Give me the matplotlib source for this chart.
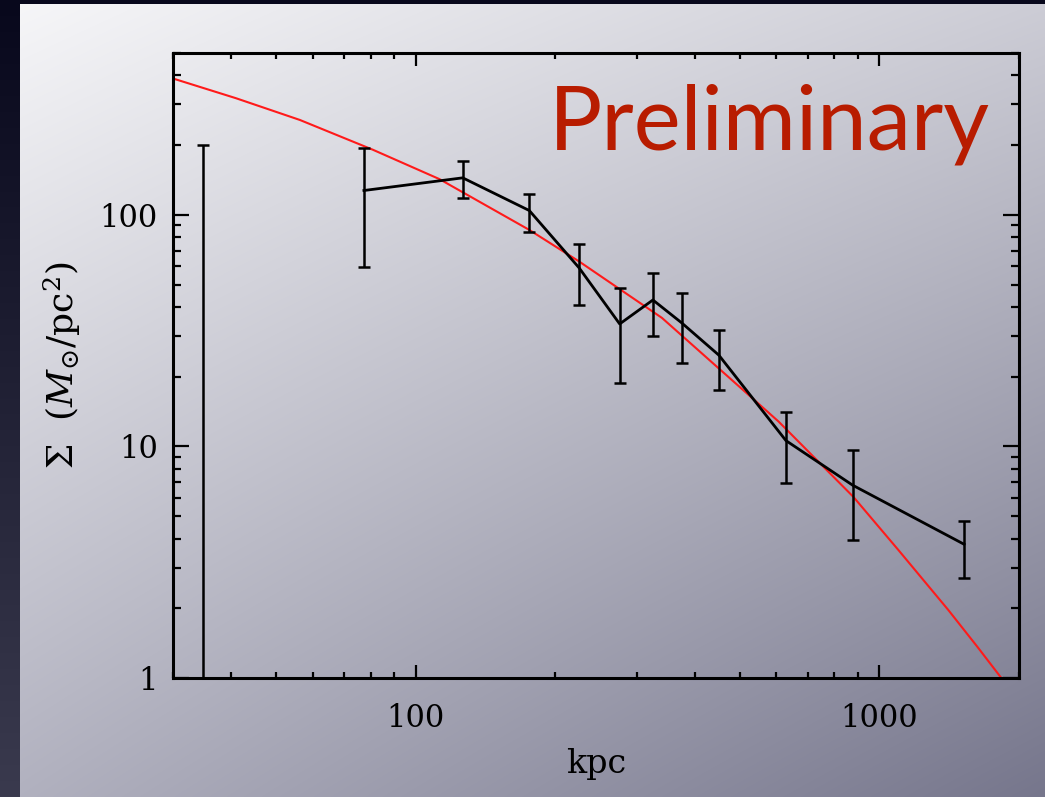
import numpy as np
import matplotlib
matplotlib.use("Agg")
import matplotlib.pyplot as plt

# data (kpc, M_sun/pc^2)
r_obs = [77.4, 126.4, 175.9, 225.3, 275.5, 324.9, 374.6, 450.6, 628.8, 876.0, 1523.0]
sig_obs = [127.4, 144.5, 104.4, 59.0, 33.8, 42.9, 34.2, 24.8, 10.6, 6.80, 3.78]
sig_lo = [59.6, 118.1, 84.7, 40.9, 18.7, 30.1, 22.9, 17.6, 6.98, 3.95, 2.70]
sig_hi = [195.3, 171.1, 123.6, 74.7, 48.5, 56.2, 45.9, 31.8, 14.05, 9.66, 4.77]

# innermost bin: only the upper end is on the plot
r_in = 34.8
sig_in_lo = 0.5
sig_in_hi = 200.0

# red model curve
r_mod = [30.0, 41.0, 56.3, 81.0, 112.6, 175.9, 225.3, 339.8, 606.5, 879.3,
         1099.0, 1407.0, 1633.0, 1832.0]
sig_mod = [388.0, 319.0, 257.0, 190.9, 142.7, 86.1, 62.9, 35.9, 12.8, 6.05,
           3.57, 1.97, 1.35, 1.0]

W, H = 1045, 797
fig = plt.figure(figsize=(W / 100, H / 100), dpi=100)

# background: dark frame + diagonal grey gradient panel
bg = np.zeros((H, W, 3))
u = np.linspace(0, 1, W)[None, :, None]
v = np.linspace(0, 1, H)[:, None, None]
tl = np.array([247, 247, 249]) / 255
tr = np.array([205, 205, 214]) / 255
bl = np.array([178, 178, 192]) / 255
br = np.array([118, 118, 140]) / 255
bg[:] = (tl * (1 - u) * (1 - v) + tr * u * (1 - v) + bl * (1 - u) * v + br * u * v)
edge = np.array([8, 8, 28]) / 255
edge_bot = np.array([58, 58, 78]) / 255
bg[:4, :, :] = edge
vv = np.linspace(0, 1, H)[:, None]
bg[:, :20, :] = (edge * (1 - vv) + edge_bot * vv)[:, None, :]
bax = fig.add_axes([0, 0, 1, 1])
bax.imshow(bg, aspect="auto", interpolation="bilinear")
bax.axis("off")

plt.rcParams["mathtext.fontset"] = "dejavuserif"
ax = fig.add_axes([173 / W, 1 - 678 / H, (1019 - 173) / W, (678 - 53) / H])
ax.set_facecolor("none")
ax.set_xscale("log")
ax.set_yscale("log")
ax.set_xlim(30, 2000)
ax.set_ylim(1, 500)

ax.plot(r_mod, sig_mod, color="#ff1a1a", lw=1.5, zorder=2)
ax.plot(r_obs, sig_obs, color="black", lw=2, zorder=3)
yerr = [np.array(sig_obs) - np.array(sig_lo), np.array(sig_hi) - np.array(sig_obs)]
ax.errorbar(r_obs, sig_obs, yerr=yerr, fmt="none", ecolor="black", elinewidth=1.8,
            capsize=4, capthick=1.8, zorder=3)
ax.vlines(r_in, sig_in_lo, sig_in_hi, color="black", lw=1.8)
ax.plot([r_in], [sig_in_hi], marker="_", ms=8, mew=1.8, color="black")

for s in ax.spines.values():
    s.set_linewidth(2.2)
ax.tick_params(axis="both", which="both", direction="in", top=True, right=True,
               width=1.6, labelsize=22)
ax.tick_params(axis="x", which="major", length=9.5, pad=18)
ax.tick_params(axis="x", which="minor", length=4.5)
ax.tick_params(axis="y", which="major", length=11.5, pad=11)
ax.tick_params(axis="y", which="minor", length=6)
ax.set_xticks([100, 1000])
ax.set_xticklabels(["100", "1000"])
ax.set_yticks([1, 10, 100])
ax.set_yticklabels(["1", "10", "100"])
ax.yaxis.set_minor_formatter(matplotlib.ticker.NullFormatter())
ax.xaxis.set_minor_formatter(matplotlib.ticker.NullFormatter())
for lab in ax.get_xticklabels() + ax.get_yticklabels():
    lab.set_family("DejaVu Serif")

ax.set_xlabel("kpc", fontsize=24, family="DejaVu Serif", labelpad=10)
ax.set_ylabel(r"$\Sigma\ \ (M_{\odot}/\mathrm{pc}^2)$", fontsize=26, labelpad=12)

ax.text(0.9657, 0.8448, "Preliminary", transform=ax.transAxes, ha="right",
        va="baseline", fontsize=64, color="#b81c00", family="Lato")

fig.savefig("out.png", dpi=100)
